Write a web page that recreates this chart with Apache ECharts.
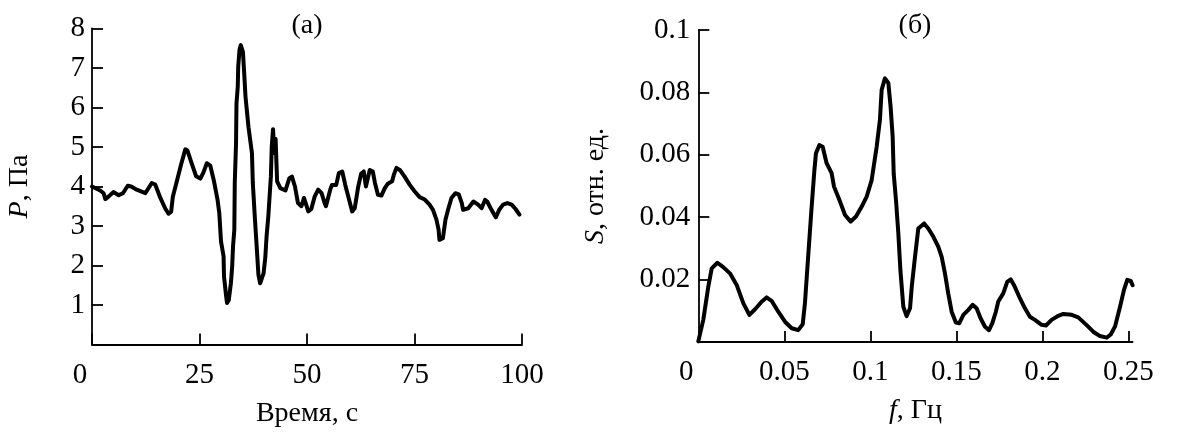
<!DOCTYPE html>
<html><head><meta charset="utf-8">
<script src="https://cdn.jsdelivr.net/npm/echarts@6/dist/echarts.min.js"></script>
<style>html,body{margin:0;padding:0;background:#fff}#c{width:1200px;height:435px}</style>
</head><body><div id="c"></div>
<script>
// Panel (а): pressure vs time
const timeValues = [
  0, 1.9, 2.7, 3.1, 3.9, 5.0, 6.2, 7.2, 8.3, 9.1,
  10.4, 12.4, 13.9, 14.7, 15.9, 17.0, 17.8, 18.4, 18.8, 19.7,
  20.7, 21.7, 22.2, 23.2, 24.2, 25.2, 25.9, 26.7, 27.5, 28.4,
  29.2, 29.6, 30.0, 30.6, 30.7, 31.2, 31.4, 31.8, 32.3, 32.6,
  32.8, 33.1, 33.2, 33.5, 33.6, 33.9, 34.0, 34.3, 34.6, 35.1,
  35.4, 35.7, 36.4, 37.2, 37.4, 37.9, 38.3, 38.7, 39.1, 39.9,
  40.3, 40.6, 41.0, 41.6, 41.8, 42.1, 42.4, 42.7, 43.05, 43.8,
  45.0, 45.9, 46.5, 47.2, 47.9, 48.7, 49.3, 49.6, 50.3, 51.0,
  51.8, 52.6, 53.4, 54.1, 54.4, 55.4, 55.8, 56.8, 57.4, 58.2,
  58.9, 59.9, 60.5, 61.1, 61.9, 62.6, 63.2, 63.7, 64.0, 64.6,
  65.3, 65.8, 66.5, 67.3, 68.1, 68.8, 69.8, 70.2, 70.8, 71.6,
  72.7, 73.9, 75.0, 76.2, 77.4, 78.5, 79.3, 80.1, 80.6, 80.8,
  81.6, 82.2, 82.8, 83.6, 84.5, 85.3, 86.0, 86.3, 87.5, 88.7,
  89.8, 90.6, 91.4, 91.9, 92.9, 93.9, 94.7, 95.6, 96.6, 97.6,
  98.5, 99.4
];
const pressureValues = [
  4.0, 3.9, 3.83, 3.68, 3.75, 3.86, 3.78, 3.83, 4.02, 4.0,
  3.92, 3.83, 4.09, 4.05, 3.71, 3.45, 3.31, 3.36, 3.74, 4.12,
  4.55, 4.94, 4.91, 4.58, 4.26, 4.2, 4.35, 4.59, 4.53, 4.12,
  3.66, 3.33, 2.61, 2.23, 1.72, 1.22, 1.05, 1.12, 1.55, 1.98,
  2.49, 2.9, 4.09, 5.1, 6.1, 6.53, 7.03, 7.46, 7.58, 7.41,
  6.86, 6.27, 5.5, 4.84, 4.09, 3.16, 2.48, 1.77, 1.55, 1.8,
  2.2, 2.74, 3.24, 4.25, 5.0, 5.45, 4.85, 5.2, 4.13, 3.96,
  3.9, 4.21, 4.25, 4.0, 3.58, 3.5, 3.71, 3.68, 3.37, 3.43,
  3.75, 3.92, 3.83, 3.58, 3.5, 3.92, 4.04, 4.04, 4.34, 4.38,
  4.04, 3.62, 3.37, 3.45, 3.99, 4.33, 4.38, 4.0, 3.97, 4.42,
  4.38, 4.09, 3.79, 3.77, 3.96, 4.07, 4.13, 4.3, 4.47, 4.42,
  4.25, 4.04, 3.88, 3.73, 3.67, 3.54, 3.41, 3.16, 2.91, 2.65,
  2.69, 3.16, 3.41, 3.71, 3.83, 3.8, 3.58, 3.41, 3.45, 3.62,
  3.54, 3.45, 3.66, 3.62, 3.41, 3.22, 3.41, 3.54, 3.58, 3.54,
  3.43, 3.29
];

// Panel (б): spectrum vs frequency
const freqValues = [
  0.0000, 0.0029, 0.0058, 0.0078, 0.0111, 0.0145, 0.0184, 0.0223, 0.0262, 0.0297,
  0.0330, 0.0368, 0.0397, 0.0426, 0.0465, 0.0504, 0.0543, 0.0581, 0.0607, 0.0620,
  0.0640, 0.0659, 0.0675, 0.0684, 0.0704, 0.0723, 0.0746, 0.0775, 0.0789, 0.0824,
  0.0853, 0.0886, 0.0917, 0.0950, 0.0979, 0.1008, 0.1037, 0.1056, 0.1066, 0.1085,
  0.1105, 0.1118, 0.1130, 0.1136, 0.1150, 0.1163, 0.1175, 0.1192, 0.1211, 0.1231,
  0.1241, 0.1260, 0.1279, 0.1313, 0.1337, 0.1366, 0.1395, 0.1415, 0.1434, 0.1453,
  0.1473, 0.1498, 0.1517, 0.1541, 0.1570, 0.1595, 0.1618, 0.1641, 0.1667, 0.1690,
  0.1709, 0.1730, 0.1744, 0.1773, 0.1796, 0.1816, 0.1835, 0.1866, 0.1899, 0.1928,
  0.1957, 0.1996, 0.2021, 0.2054, 0.2093, 0.2122, 0.2171, 0.2209, 0.2258, 0.2296,
  0.2335, 0.2374, 0.2398, 0.2423, 0.2452, 0.2475, 0.2494, 0.2514, 0.2525
];
const spectrumValues = [
  0.0002, 0.0071, 0.0177, 0.0236, 0.0254, 0.0240, 0.0220, 0.0183, 0.0124, 0.0087,
  0.0105, 0.0129, 0.0143, 0.0132, 0.0097, 0.0065, 0.0044, 0.0038, 0.0057, 0.0124,
  0.0284, 0.0434, 0.0551, 0.0605, 0.0631, 0.0626, 0.0573, 0.0541, 0.0498, 0.0450,
  0.0407, 0.0386, 0.0402, 0.0434, 0.0466, 0.0519, 0.0626, 0.0712, 0.0808, 0.0845,
  0.0830, 0.0754, 0.0658, 0.0540, 0.0450, 0.0348, 0.0230, 0.0113, 0.0083, 0.0108,
  0.0177, 0.0273, 0.0364, 0.0380, 0.0364, 0.0338, 0.0306, 0.0273, 0.0220, 0.0156,
  0.0097, 0.0062, 0.0060, 0.0087, 0.0103, 0.0119, 0.0108, 0.0076, 0.0049, 0.0038,
  0.0060, 0.0097, 0.0130, 0.0156, 0.0193, 0.0201, 0.0183, 0.0145, 0.0108, 0.0081,
  0.0071, 0.0055, 0.0053, 0.0071, 0.0084, 0.0090, 0.0087, 0.0079, 0.0054, 0.0033,
  0.0019, 0.0014, 0.0024, 0.0050, 0.0113, 0.0167, 0.0199, 0.0196, 0.0182
];

const freqLabelValues = [0, 0.05, 0.1, 0.15, 0.2, 0.25];
const freqTickValues = [0.05, 0.1, 0.15, 0.2, 0.25];

const FONT = '"Liberation Serif", "Times New Roman", serif';
const tickFont = 29;
const nameFont = 28;
const black = '#000';

const axisLine = { show: true, lineStyle: { color: black, width: 1.8 } };
const axisTick = { show: true, inside: true, length: 11, lineStyle: { color: black, width: 1.8 } };
const labelBase = { color: black, fontFamily: FONT, fontSize: tickFont };
const zeroRich = { z: { color: black, fontFamily: FONT, fontSize: tickFont, padding: [0, 24, 0, 0] } };
const italicRich = { i: { fontStyle: 'italic', fontFamily: FONT, fontSize: nameFont, color: black } };

const chart = echarts.init(document.getElementById('c'), null, { renderer: 'canvas' });
chart.setOption({
  animation: false,
  backgroundColor: '#fff',
  grid: [
    { left: 92, top: 28.5, width: 430, height: 316 },
    { left: 698.3, top: 30, width: 434.3, height: 312 }
  ],
  xAxis: [
    {
      gridIndex: 0, type: 'value', min: 0, max: 100, interval: 25,
      axisLine, axisTick, splitLine: { show: false },
      axisLabel: Object.assign({}, labelBase, {
        margin: 16,
        formatter: v => v === 0 ? '{z|0}' : String(v),
        rich: zeroRich
      }),
      name: 'Время, с', nameLocation: 'middle', nameGap: 55,
      nameTextStyle: { color: black, fontFamily: FONT, fontSize: nameFont }
    },
    {
      gridIndex: 1, type: 'value', min: 0, max: 0.2525,
      axisLine,
      axisTick: Object.assign({}, axisTick, { customValues: freqTickValues }),
      splitLine: { show: false },
      axisLabel: Object.assign({}, labelBase, {
        margin: 16,
        customValues: freqLabelValues,
        formatter: v => {
          if (Math.abs(v) < 1e-9) return '{z|0}';
          if (Math.abs(v / 0.05 - Math.round(v / 0.05)) > 1e-6) return '';
          return String(Math.round(v * 100) / 100);
        },
        rich: zeroRich
      }),
      name: '{i|f}, Гц', nameLocation: 'middle', nameGap: 55,
      nameTextStyle: { color: black, fontFamily: FONT, fontSize: nameFont, rich: italicRich }
    }
  ],
  yAxis: [
    {
      gridIndex: 0, type: 'value', min: 0, max: 8, interval: 1,
      axisLine, axisTick, splitLine: { show: false },
      axisLabel: Object.assign({}, labelBase, {
        margin: 7,
        formatter: v => v === 0 ? '' : String(v)
      }),
      name: '{i|P}, Па', nameLocation: 'middle', nameGap: 58,
      nameTextStyle: { color: black, fontFamily: FONT, fontSize: nameFont, rich: italicRich }
    },
    {
      gridIndex: 1, type: 'value', min: 0, max: 0.1, interval: 0.02,
      axisLine, axisTick, splitLine: { show: false },
      axisLabel: Object.assign({}, labelBase, {
        margin: 8,
        formatter: v => Math.abs(v) < 1e-9 ? '' : String(Math.round(v * 100) / 100)
      }),
      name: '{i|S}, отн. ед.', nameLocation: 'middle', nameGap: 89,
      nameTextStyle: { color: black, fontFamily: FONT, fontSize: nameFont, rich: italicRich }
    }
  ],
  graphic: [
    { type: 'text', style: { x: 307, y: 26, text: '(а)', font: '28px ' + FONT, fill: black,
      align: 'center', verticalAlign: 'middle', textAlign: 'center', textVerticalAlign: 'middle' } },
    { type: 'text', style: { x: 915, y: 26, text: '(б)', font: '28px ' + FONT, fill: black,
      align: 'center', verticalAlign: 'middle', textAlign: 'center', textVerticalAlign: 'middle' } }
  ],
  series: [
    {
      type: 'line', xAxisIndex: 0, yAxisIndex: 0, showSymbol: false, symbol: 'none',
      lineStyle: { color: black, width: 4, join: 'round', cap: 'round' },
      data: timeValues.map((t, i) => [t, pressureValues[i]])
    },
    {
      type: 'line', xAxisIndex: 1, yAxisIndex: 1, showSymbol: false, symbol: 'none',
      lineStyle: { color: black, width: 4, join: 'round', cap: 'round' },
      data: freqValues.map((f, i) => [f, spectrumValues[i]])
    }
  ]
});
</script>
</body></html>
